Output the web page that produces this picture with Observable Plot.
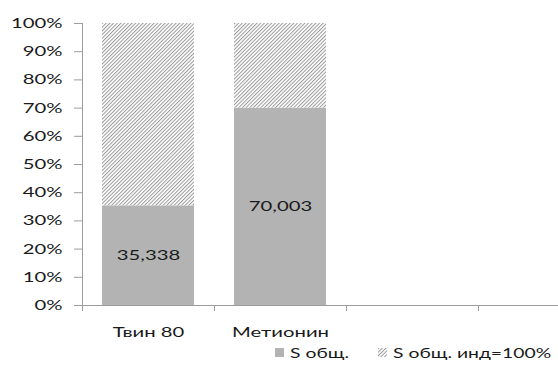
<!DOCTYPE html>
<html>
<head>
<meta charset="utf-8">
<script src="https://cdn.jsdelivr.net/npm/d3@7"></script>
<script src="https://cdn.jsdelivr.net/npm/@observablehq/plot@0.6"></script>
<style>
  html, body { margin: 0; padding: 0; background: #fff; }
  #chart { width: 558px; height: 365px; position: relative; overflow: hidden; font-family: Lato, "DejaVu Sans", sans-serif; color: #1a1a1a; }
  #chart svg { display: block; }
  #chart g[aria-label="y-axis tick"], #chart g[aria-label="x-axis tick"] { stroke: #9c9c9c; }
  .legend { position: absolute; left: 0; top: 341px; width: 558px; height: 23px; font-size: 14px; }
  .legend .item { position: absolute; top: 0; height: 23px; display: flex; align-items: center; white-space: nowrap; }
  .legend .lbl { display: inline-block; transform: scaleX(1.38); transform-origin: left center; }
  .legend svg { margin-right: 6px; }
</style>
</head>
<body>
<div id="chart"></div>
<script>
// Categories along x (the last two slots are empty in this layout)
const categories = ["Твин 80", "Метионин", "", " "];
const filledCategories = ["Твин 80", "Метионин"];
// Series: measured share and the remainder up to the 100% reference
const seriesNames = ["S общ.", "S общ. инд=100%"];
const sTotal = [35.338, 70.003];
const sRemainder = [64.662, 29.997];
const yTicks = [0, 10, 20, 30, 40, 50, 60, 70, 80, 90, 100];

const rows = [
  ...filledCategories.map((c, i) => ({category: c, series: seriesNames[0], value: sTotal[i]})),
  ...filledCategories.map((c, i) => ({category: c, series: seriesNames[1], value: sRemainder[i]}))
];
const totalRows = rows.filter(d => d.series === seriesNames[0]);

const W = 558, H = 342, left = 82;
const step = 132;
const xRange = [left, left + step * categories.length];
const fmt = v => v.toFixed(3).replace(".", ",");

const svg = Plot.plot({
  width: W,
  height: H,
  marginLeft: left,
  marginRight: 0,
  marginTop: 23,
  marginBottom: 37,
  style: {fontFamily: "Lato, 'DejaVu Sans', sans-serif", fontSize: "14px", color: "#1a1a1a", background: "#fff"},
  x: {domain: categories, range: xRange, padding: 0, label: null},
  y: {domain: [0, 100], label: null},
  color: {domain: seriesNames, range: ["#b3b3b3", "url(#hatch)"]},
  marks: [
    Plot.barY(rows, Plot.stackY({x: "category", y: "value", fill: "series", insetLeft: 20, insetRight: 20})),
    Plot.text(totalRows, Plot.stackY({x: "category", y: "value", text: d => fmt(d.value), fill: "#1a1a1a", fontSize: 14})),
    Plot.ruleY([0], {stroke: "#9c9c9c"}),
    Plot.ruleX([categories[0]], {y1: 0, y2: 100, dx: -step / 2, stroke: "#9c9c9c"}),
    Plot.axisY({ticks: yTicks, tickSize: 8, tickPadding: 12, tickFormat: d => d + "%", fontSize: 14, label: null}),
    Plot.axisX({tickSize: 0, tickPadding: 22, fontSize: 14, tickFormat: d => d.trim(), label: null}),
    Plot.axisX({tickSize: 6, tickFormat: () => "", dx: -step / 2, label: null})
  ]
});

// Diagonal hatch used by the 100% series
d3.select(svg).insert("defs", ":first-child").html(
  `<pattern id="hatch" patternUnits="userSpaceOnUse" width="2.6" height="2.6" patternTransform="rotate(45)">
     <rect width="2.6" height="2.6" fill="#fff"/>
     <rect width="1" height="2.6" fill="#9a9a9a"/>
   </pattern>`
);

// Wide lettering: stretch each label horizontally about its anchor
d3.select(svg).selectAll("text").attr("transform", function () {
  return (this.getAttribute("transform") || "") + " scale(1.45,1)";
});

const chart = document.getElementById("chart");
chart.appendChild(svg);

// Legend below the plot
const legend = document.createElement("div");
legend.className = "legend";
const swatches = [
  {x: 275, fill: "#b3b3b3"},
  {x: 378, fill: "url(#hatch)"}
];
seriesNames.forEach((name, i) => {
  const item = document.createElement("div");
  item.className = "item";
  item.style.left = swatches[i].x + "px";
  item.innerHTML = `<svg width="9" height="9"><rect width="9" height="9" fill="${swatches[i].fill}"/></svg><span class="lbl">${name}</span>`;
  legend.appendChild(item);
});
chart.appendChild(legend);
</script>
</body>
</html>
